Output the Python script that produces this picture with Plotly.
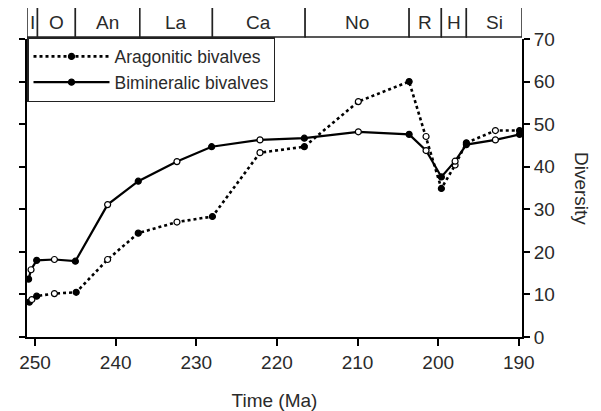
import plotly.graph_objects as go

# ---- data ----
stage_names = ["I", "O", "An", "La", "Ca", "No", "R", "H", "Si"]
stage_bounds = [251.0, 249.7, 245.0, 237.0, 228.0, 216.5, 203.6, 199.6, 196.5, 189.6]

time_bim = [250.8, 250.5, 249.8, 247.6, 245.0, 241.0, 237.2, 232.4, 228.1, 222.1,
            216.6, 209.9, 203.6, 201.5, 199.6, 197.9, 196.5, 192.9, 189.9]
div_bim = [13.6, 15.8, 18.0, 18.2, 17.8, 31.1, 36.6, 41.2, 44.7, 46.3,
           46.7, 48.2, 47.6, 43.8, 37.6, 41.3, 45.2, 46.3, 47.6]

time_arag = [250.7, 250.4, 249.8, 247.6, 244.9, 241.0, 237.2, 232.4, 228.0, 222.1,
             216.6, 209.9, 203.6, 201.5, 199.6, 197.9, 196.5, 192.9, 189.9]
div_arag = [8.2, 8.8, 9.6, 10.2, 10.5, 18.2, 24.4, 27.0, 28.3, 43.3,
            44.7, 55.3, 60.0, 47.1, 34.9, 40.4, 45.6, 48.5, 48.5]

x_ticks = [250, 240, 230, 220, 210, 200, 190]
y_ticks = [0, 10, 20, 30, 40, 50, 60, 70]

FONT = "Liberation Sans, Arial, sans-serif"
TXT = "#2a2a2a"


def fills(n):
    return ["black" if i % 2 == 0 else "white" for i in range(n)]


fig = go.Figure()
fig.add_trace(go.Scatter(
    x=time_arag, y=div_arag, mode="lines+markers", name="Aragonitic bivalves",
    legendgroup="a",
    line=dict(color="black", width=2.6, dash="dot"),
    marker=dict(size=6, color=fills(len(div_arag)), line=dict(color="black", width=1.2)),
    cliponaxis=False,
))
fig.add_trace(go.Scatter(
    x=time_bim, y=div_bim, mode="lines+markers", name="Bimineralic bivalves",
    legendgroup="b",
    line=dict(color="black", width=2.2),
    marker=dict(size=6, color=fills(len(div_bim)), line=dict(color="black", width=1.2)),
    cliponaxis=False,
))

# stage bar
for i, nm in enumerate(stage_names):
    x0, x1 = stage_bounds[i], stage_bounds[i + 1]
    fig.add_shape(type="rect", xref="x", yref="paper", x0=x0, x1=x1, y0=1.0067, y1=1.1067,
                  line=dict(color="#222", width=1.5), fillcolor="white", layer="above")
    fig.add_annotation(x=(x0 + x1) / 2, y=1.0567, xref="x", yref="paper", text=nm,
                       showarrow=False, font=dict(family=FONT, size=19, color=TXT),
                       xanchor="center", yanchor="middle")

fig.add_annotation(x=1.0, y=0.5, xref="paper", yref="paper", xshift=60,
                   text="Diversity", textangle=90, showarrow=False,
                   font=dict(family=FONT, size=19, color=TXT),
                   xanchor="center", yanchor="middle")

fig.update_layout(
    width=601, height=411,
    margin=dict(l=11, r=87, t=31, b=80),
    paper_bgcolor="white", plot_bgcolor="white",
    font=dict(family=FONT, color=TXT),
    showlegend=True,
    legend=dict(x=0, y=1.0067, xanchor="left", yanchor="top",
                bgcolor="white", bordercolor="#222", borderwidth=1.5,
                font=dict(family=FONT, size=17.5, color=TXT),
                itemwidth=76, tracegroupgap=0),
    xaxis=dict(range=[251, 189.6], tickvals=x_ticks, showgrid=False, zeroline=False,
               showline=True, linecolor="black", linewidth=2,
               ticks="outside", ticklen=7, tickwidth=2, tickcolor="black",
               tickfont=dict(family=FONT, size=19, color=TXT),
               title=dict(text="Time (Ma)", font=dict(family=FONT, size=19, color=TXT),
                          standoff=22)),
    yaxis=dict(range=[0, 70], tickvals=y_ticks, side="right", showgrid=False,
               zeroline=False, showline=True, linecolor="black", linewidth=2,
               mirror="ticks", ticks="outside", ticklen=6, tickwidth=2,
               tickcolor="black",
               tickfont=dict(family=FONT, size=19, color=TXT)),
)

fig.write_html("out.html")
